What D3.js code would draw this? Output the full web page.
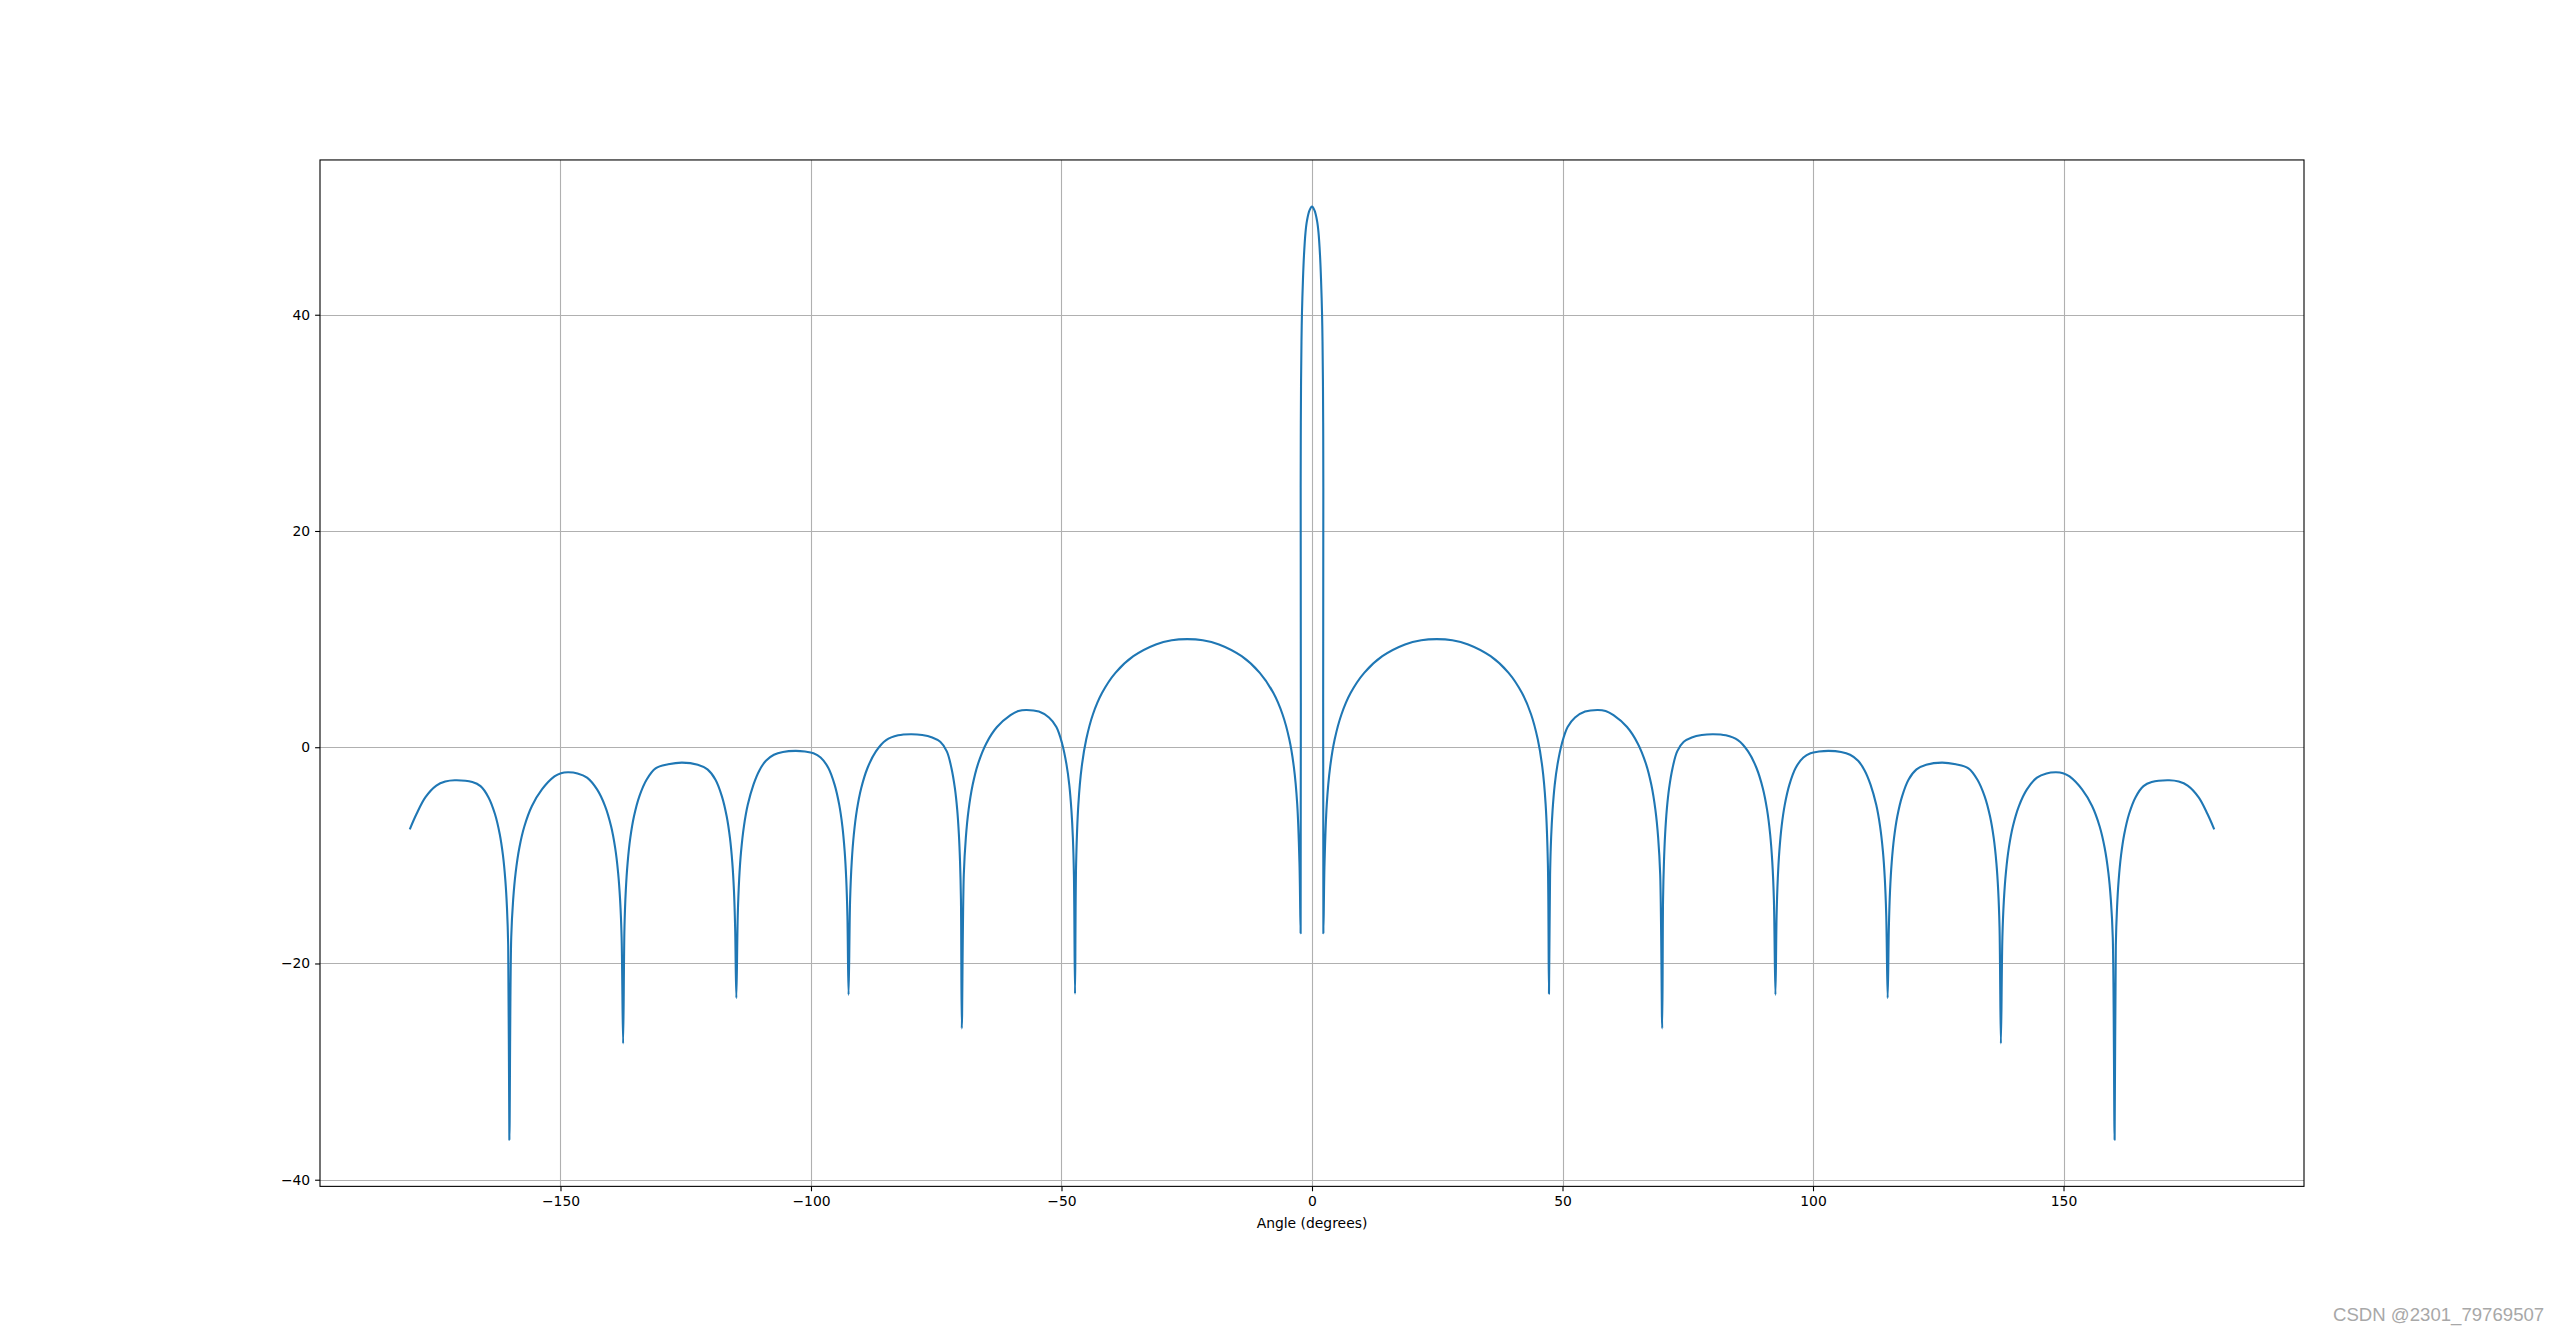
<!DOCTYPE html>
<html>
<head>
<meta charset="utf-8">
<script src="https://d3js.org/d3.v7.min.js"></script>
<style>
	body { margin: 0; background: #fff; }
	svg { display: block; }
	text { font-family: "DejaVu Sans", sans-serif; }
</style>
</head>
<body>
<svg width="2560" height="1333"></svg>
<script>
// values (angle in degrees, gain in dB)
// right half, from the main beam outwards
var anglePos = [0, 0.5, 1, 1.3, 1.6, 1.8, 2, 2.1, 2.18, 2.23, 2.26, 2.27,
	2.5, 2.95, 3.63, 4.53, 5.89, 7.7, 10.42, 14.04, 18.56, 21.8, 24.9, 28, 31.17, 35.65, 39.24, 41.92, 43.72, 45.06, 45.96, 46.63, 47.08, 47.3,
	47.52, 47.73, 48.02, 48.44, 49.02, 49.87, 51.02, 52.5, 54.5, 57.05, 58.6, 60.18, 62.88, 65.04, 66.66, 67.74, 68.55, 69.09, 69.5, 69.9,
	70.07, 70.25, 70.48, 70.82, 71.28, 71.97, 72.89, 74.2, 75.8, 77.8, 80.1, 82.6, 85, 87.04, 88.72, 89.98, 90.82, 91.45, 91.87, 92.19, 92.5,
	92.73, 92.97, 93.28, 93.74, 94.36, 95.29, 96.53, 98.08, 99.5, 101.2, 103.1, 105.6, 107.4, 109, 110.3, 111.48, 112.62, 113.38, 113.95, 114.33, 114.62, 114.9,
	115.14, 115.38, 115.7, 116.18, 116.82, 117.78, 119.06, 120.66, 122.6, 125.75, 128.5, 131.02, 132.82, 134.26, 135.34, 136.06, 136.6, 136.96, 137.23, 137.5,
	137.8, 138.1, 138.5, 139.1, 139.9, 141.1, 142.7, 144.7, 146.6, 148.5, 149.9, 151.2, 153.7, 155.7, 157.2, 158.2, 158.95, 159.45, 159.83, 160.2,
	160.44, 160.68, 161, 161.48, 162.12, 163.08, 164.36, 165.96, 167.6, 171.1, 173, 174.78, 176.98, 178.74, 180];
var dbPos = [50.0, 49.65, 48.7, 47.6, 45.5, 43.3, 40.2, 37.5, 34.0, 30.0, 24.0, -17.2,
	-10.75, -5.26, -1.8, 0.73, 3.05, 5.01, 6.88, 8.42, 9.51, 9.9, 10.0, 9.9, 9.51, 8.42, 6.88, 5.01, 3.05, 0.73, -1.8, -5.26, -10.75, -22.8,
	-11.8, -8.35, -5.82, -3.5, -1.54, 0.33, 1.87, 2.75, 3.3, 3.45, 3.35, 2.96, 1.87, 0.33, -1.54, -3.5, -5.82, -8.35, -11.8, -26.0,
	-14.06, -10.6, -8.07, -5.75, -3.79, -1.92, -0.38, 0.5, 0.9, 1.13, 1.2, 1.1, 0.66, -0.38, -1.92, -3.79, -5.75, -8.07, -10.6, -14.06, -22.9,
	-15.6, -12.14, -9.61, -7.29, -5.33, -3.46, -1.92, -0.95, -0.55, -0.4, -0.34, -0.44, -0.7, -1.25, -2.15, -3.46, -5.33, -7.29, -9.61, -12.14, -15.6, -23.2,
	-16.68, -13.22, -10.69, -8.37, -6.41, -4.54, -3.0, -2.05, -1.62, -1.42, -1.58, -1.95, -3.0, -4.54, -6.41, -8.37, -10.69, -13.22, -16.68, -27.4,
	-17.58, -14.12, -11.59, -9.27, -7.31, -5.44, -3.9, -2.81, -2.42, -2.32, -2.4, -2.7, -3.9, -5.44, -7.31, -9.27, -11.59, -14.12, -17.58, -36.3,
	-18.32, -14.86, -12.33, -10.01, -8.05, -6.18, -4.64, -3.6, -3.22, -3.06, -3.18, -3.55, -4.64, -6.18, -7.5];

// left half, from the main beam outwards (the pattern is symmetric)
var angleNeg = [-0.5, -1, -1.3, -1.6, -1.8, -2, -2.1, -2.18, -2.23, -2.26, -2.27,
	-2.5, -2.95, -3.63, -4.53, -5.89, -7.7, -10.42, -14.04, -18.56, -21.8, -24.9, -28, -31.17, -35.65, -39.24, -41.92, -43.72, -45.06, -45.96, -46.63, -47.08, -47.3,
	-47.52, -47.73, -48.02, -48.44, -49.02, -49.87, -51.02, -52.5, -54.5, -57.05, -58.6, -60.18, -62.88, -65.04, -66.66, -67.74, -68.55, -69.09, -69.5, -69.9,
	-70.07, -70.25, -70.48, -70.82, -71.28, -71.97, -72.89, -74.2, -75.8, -77.8, -80.1, -82.6, -85, -87.04, -88.72, -89.98, -90.82, -91.45, -91.87, -92.19, -92.5,
	-92.73, -92.97, -93.28, -93.74, -94.36, -95.29, -96.53, -98.08, -99.5, -101.2, -103.1, -105.6, -107.4, -109, -110.3, -111.48, -112.62, -113.38, -113.95, -114.33, -114.62, -114.9,
	-115.14, -115.38, -115.7, -116.18, -116.82, -117.78, -119.06, -120.66, -122.6, -125.75, -128.5, -131.02, -132.82, -134.26, -135.34, -136.06, -136.6, -136.96, -137.23, -137.5,
	-137.8, -138.1, -138.5, -139.1, -139.9, -141.1, -142.7, -144.7, -146.6, -148.5, -149.9, -151.2, -153.7, -155.7, -157.2, -158.2, -158.95, -159.45, -159.83, -160.2,
	-160.44, -160.68, -161, -161.48, -162.12, -163.08, -164.36, -165.96, -167.6, -171.1, -173, -174.78, -176.98, -178.74, -180];
var dbNeg = [49.65, 48.7, 47.6, 45.5, 43.3, 40.2, 37.5, 34.0, 30.0, 24.0, -17.2,
	-10.75, -5.26, -1.8, 0.73, 3.05, 5.01, 6.88, 8.42, 9.51, 9.9, 10.0, 9.9, 9.51, 8.42, 6.88, 5.01, 3.05, 0.73, -1.8, -5.26, -10.75, -22.8,
	-11.8, -8.35, -5.82, -3.5, -1.54, 0.33, 1.87, 2.75, 3.3, 3.45, 3.35, 2.96, 1.87, 0.33, -1.54, -3.5, -5.82, -8.35, -11.8, -26.0,
	-14.06, -10.6, -8.07, -5.75, -3.79, -1.92, -0.38, 0.5, 0.9, 1.13, 1.2, 1.1, 0.66, -0.38, -1.92, -3.79, -5.75, -8.07, -10.6, -14.06, -22.9,
	-15.6, -12.14, -9.61, -7.29, -5.33, -3.46, -1.92, -0.95, -0.55, -0.4, -0.34, -0.44, -0.7, -1.25, -2.15, -3.46, -5.33, -7.29, -9.61, -12.14, -15.6, -23.2,
	-16.68, -13.22, -10.69, -8.37, -6.41, -4.54, -3.0, -2.05, -1.62, -1.42, -1.58, -1.95, -3.0, -4.54, -6.41, -8.37, -10.69, -13.22, -16.68, -27.4,
	-17.58, -14.12, -11.59, -9.27, -7.31, -5.44, -3.9, -2.81, -2.42, -2.32, -2.4, -2.7, -3.9, -5.44, -7.31, -9.27, -11.59, -14.12, -17.58, -36.3,
	-18.32, -14.86, -12.33, -10.01, -8.05, -6.18, -4.64, -3.6, -3.22, -3.06, -3.18, -3.55, -4.64, -6.18, -7.5];

var xTicks = [-150, -100, -50, 0, 50, 100, 150];
var yTicks = [-40, -20, 0, 20, 40];
var xLabel = "Angle (degrees)";
var watermark = "CSDN @2301_79769507";

(function() {
	var svg = d3.select("svg"),
		width = 2560,
		height = 1333;

	// matplotlib default subplot box
	var left = 0.125 * width,
		right = 0.9 * width,
		top = 0.12 * height,
		bottom = 0.89 * height;

	var data = [];
	angleNeg.forEach(function(a, i) { data.push({ a: a, v: dbNeg[i] }); });
	anglePos.forEach(function(a, i) { data.push({ a: a, v: dbPos[i] }); });
	data.sort(function(p, q) { return p.a - q.a; });

	// 5% margins like matplotlib autoscale
	var xe = d3.extent(data, function(d) { return d.a; }),
		ye = d3.extent(data, function(d) { return d.v; }),
		xm = (xe[1] - xe[0]) * 0.05,
		ym = (ye[1] - ye[0]) * 0.05;

	var x = d3.scaleLinear().domain([xe[0] - xm, xe[1] + xm]).range([left, right]);
	var y = d3.scaleLinear().domain([ye[0] - ym, ye[1] + ym]).range([bottom, top]);

	var fmt = function(d) { return String(d).replace("-", "\u2212"); };

	svg.append("rect")
		.attr("width", width)
		.attr("height", height)
		.attr("fill", "white");

	// grid
	var grid = svg.append("g").attr("stroke", "#b0b0b0").attr("stroke-width", 1.1);
	grid.selectAll("line.gx")
		.data(xTicks)
		.enter().append("line")
		.attr("class", "gx")
		.attr("x1", function(d) { return Math.round(x(d)) + 0.5; })
		.attr("x2", function(d) { return Math.round(x(d)) + 0.5; })
		.attr("y1", top)
		.attr("y2", bottom);
	grid.selectAll("line.gy")
		.data(yTicks)
		.enter().append("line")
		.attr("class", "gy")
		.attr("x1", left)
		.attr("x2", right)
		.attr("y1", function(d) { return Math.round(y(d)) + 0.5; })
		.attr("y2", function(d) { return Math.round(y(d)) + 0.5; });

	var line = d3.line()
		.x(function(d) { return x(d.a); })
		.y(function(d) { return y(d.v); })
		.curve(d3.curveCatmullRom.alpha(0.5));

	svg.append("path")
		.datum(data)
		.attr("fill", "none")
		.attr("stroke", "#1f77b4")
		.attr("stroke-width", 2.1)
		.attr("stroke-linejoin", "round")
		.attr("stroke-linecap", "square")
		.attr("d", line);

	var xAxis = svg.append("g")
		.attr("transform", "translate(0," + bottom + ")")
		.call(d3.axisBottom(x).tickValues(xTicks).tickFormat(fmt).tickSize(4.9).tickPadding(4.9));
	var yAxis = svg.append("g")
		.attr("transform", "translate(" + left + ",0)")
		.call(d3.axisLeft(y).tickValues(yTicks).tickFormat(fmt).tickSize(4.9).tickPadding(4.9));

	[xAxis, yAxis].forEach(function(g) {
		g.select(".domain").remove();
		g.selectAll(".tick line").attr("stroke", "#000").attr("stroke-width", 1.1);
		g.selectAll(".tick text")
			.attr("fill", "#000")
			.style("font-size", "13.9px")
			.style("font-family", "'DejaVu Sans', sans-serif");
	});

	// frame
	svg.append("rect")
		.attr("x", left)
		.attr("y", top)
		.attr("width", right - left)
		.attr("height", bottom - top)
		.attr("fill", "none")
		.attr("stroke", "#000")
		.attr("stroke-width", 1.1);

	svg.append("text")
		.attr("x", (left + right) / 2)
		.attr("y", 1228)
		.attr("text-anchor", "middle")
		.style("font-size", "13.9px")
		.text(xLabel);

	svg.append("text")
		.attr("x", 2333)
		.attr("y", 1321)
		.attr("fill", "#a8a8a8")
		.style("font-family", "'Liberation Sans', Arial, sans-serif")
		.style("font-size", "18.6px")
		.text(watermark);
})();
</script>
</body>
</html>
